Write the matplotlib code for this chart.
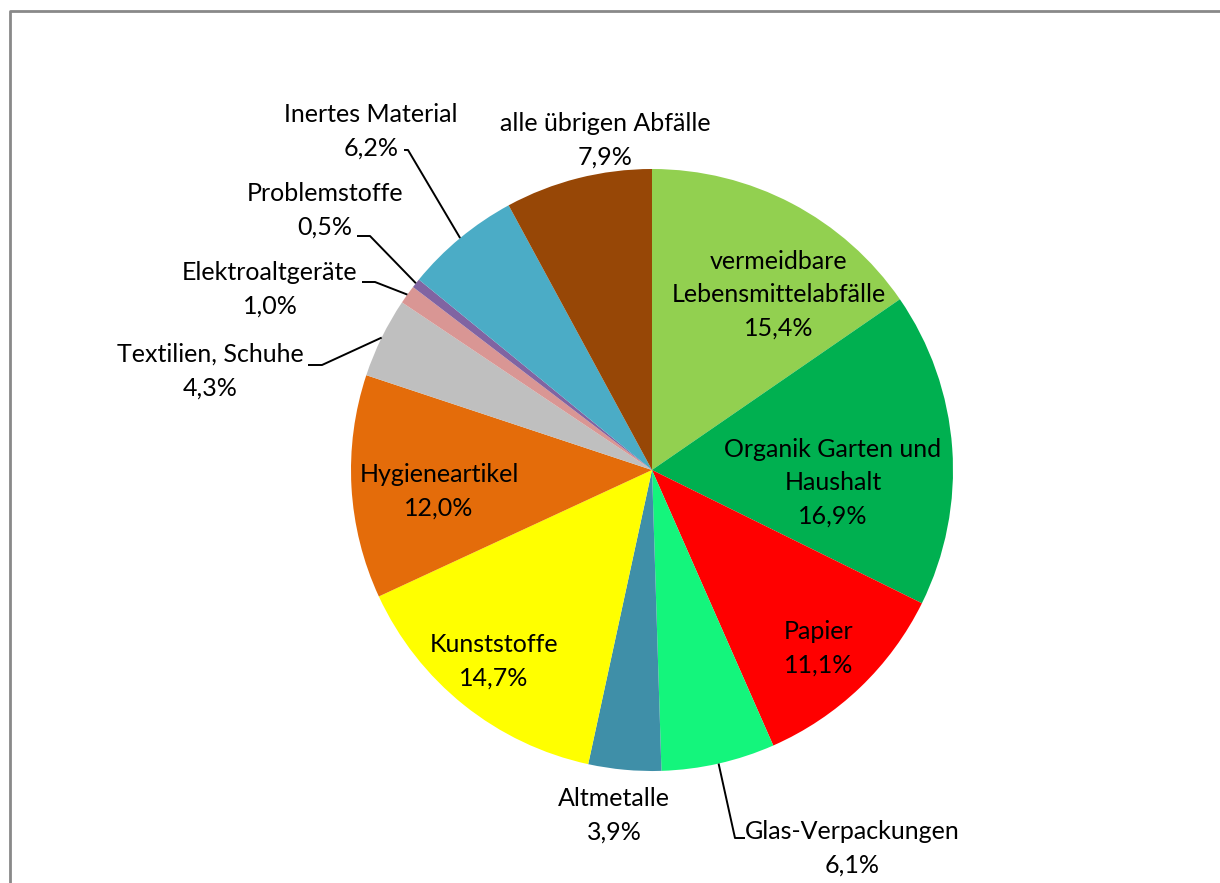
import matplotlib.pyplot as plt
import numpy as np

plt.rcParams['font.family'] = ['Lato', 'DejaVu Sans']

labels = ['vermeidbare\nLebensmittelabfälle', 'Organik Garten und\nHaushalt', 'Papier',
          'Glas-Verpackungen', 'Altmetalle', 'Kunststoffe', 'Hygieneartikel',
          'Textilien, Schuhe', 'Elektroaltgeräte', 'Problemstoffe', 'Inertes Material',
          'alle übrigen Abfälle']
shares = [15.4, 16.9, 11.1, 6.1, 3.9, 14.7, 12.0, 4.3, 1.0, 0.5, 6.2, 7.9]
colors = ['#92D050', '#00B050', '#FF0000', '#14F57C', '#3F8FA8', '#FFFF00',
          '#E46C0A', '#BFBFBF', '#D99694', '#8064A2', '#4BACC6', '#974706']

# label centres in pixel coords, and leader line knee (None = no leader)
label_pos = [(779, 295), (833, 483), (819, 648), (852, 848), (614, 815), (494, 661),
             (439, 491), (210, 371), (270, 289), (325, 210), (371, 131), (605, 140)]
leader = [None, None, None, [(745, 838), (735, 838)], None, None, None,
          [(308, 365), (322, 365)], [(362, 282), (375, 282)], [(357, 236), (370, 236)],
          [(404, 150), (408, 150)], None]

W, H = 1220, 883
cx, cy, r = 652, 470, 301

fig = plt.figure(figsize=(W / 100, H / 100), dpi=100)
ax = fig.add_axes([0, 0, 1, 1])
wedges, _ = ax.pie(shares, colors=colors, startangle=-90, counterclock=True,
                   center=(cx, cy), radius=r, wedgeprops=dict(linewidth=0))
ax.set_xlim(0, W)
ax.set_ylim(H, 0)
ax.set_aspect('auto')
ax.axis('off')

for lab, val, pos, ld, w in zip(labels, shares, label_pos, leader, wedges):
    txt = lab + '\n' + f'{val:.1f}%'.replace('.', ',')
    ax.text(pos[0], pos[1], txt, ha='center', va='center', fontsize=18,
            linespacing=1.55, color='black')
    if ld is not None:
        th = np.deg2rad((w.theta1 + w.theta2) / 2)
        ex, ey = cx + r * np.cos(th), cy + r * np.sin(th)
        xs = [p[0] for p in ld] + [ex]
        ys = [p[1] for p in ld] + [ey]
        ax.plot(xs, ys, color='black', lw=1.4, solid_capstyle='butt')

# chart frame
ax.plot([10, 10, W], [H, 11, 11], color='#898989', lw=2)

fig.savefig('out.png', dpi=100)
